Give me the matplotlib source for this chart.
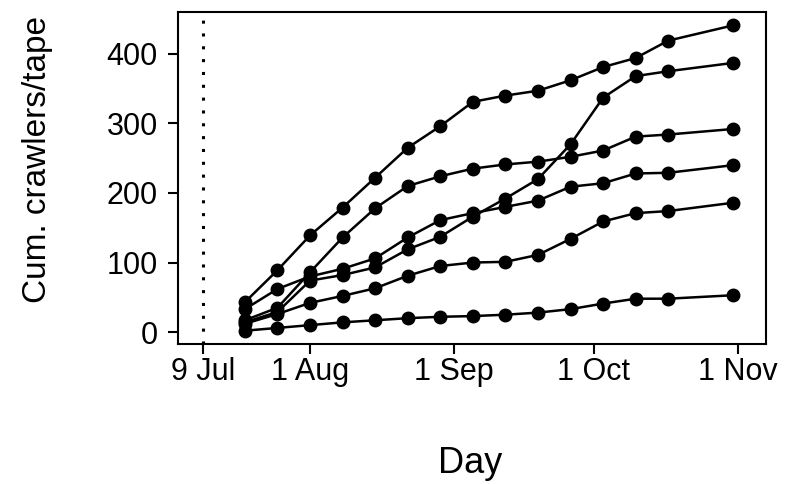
import datetime as dt

import matplotlib
matplotlib.use("Agg")
import matplotlib.pyplot as plt
import matplotlib.dates as mdates

plt.rcParams['font.family'] = ['Liberation Sans', 'DejaVu Sans']

# sampling dates (weekly, last one skips a week)
dates = [dt.date(2019, 7, 18), dt.date(2019, 7, 25), dt.date(2019, 8, 1),
         dt.date(2019, 8, 8), dt.date(2019, 8, 15), dt.date(2019, 8, 22),
         dt.date(2019, 8, 29), dt.date(2019, 9, 5), dt.date(2019, 9, 12),
         dt.date(2019, 9, 19), dt.date(2019, 9, 26), dt.date(2019, 10, 3),
         dt.date(2019, 10, 10), dt.date(2019, 10, 17), dt.date(2019, 10, 31)]

# cumulative crawlers per tape, one list per tree
tree_a = [43, 89, 139, 179, 222, 265, 296, 331, 340, 347, 362, 381, 394, 419, 441]
tree_b = [14, 29, 74, 82, 93, 119, 137, 166, 192, 220, 270, 337, 368, 375, 387]
tree_c = [33, 62, 80, 91, 106, 136, 161, 171, 180, 189, 209, 214, 228, 229, 240]
tree_d = [17, 35, 86, 136, 178, 210, 224, 235, 241, 245, 252, 261, 281, 284, 292]
tree_e = [12, 26, 42, 52, 63, 81, 95, 100, 101, 111, 134, 159, 171, 174, 186]
tree_f = [2, 6, 10, 14, 17, 20, 22, 23, 25, 28, 33, 41, 48, 48, 53]

release_date = dt.date(2019, 7, 9)
tick_dates = [dt.date(2019, 7, 9), dt.date(2019, 8, 1), dt.date(2019, 9, 1),
              dt.date(2019, 10, 1), dt.date(2019, 11, 1)]
tick_labels = ["9 Jul", "1 Aug", "1 Sep", "1 Oct", "1 Nov"]

fig = plt.figure(figsize=(7.86, 4.84), dpi=100)
ax = fig.add_axes([0.2265, 0.289, 0.748, 0.686])

for vals in [tree_a, tree_b, tree_c, tree_d, tree_e, tree_f]:
    ax.plot(dates, vals, color="black", linewidth=1.8,
            marker="o", markersize=9, zorder=3)

ax.axvline(release_date, color="black", linestyle=(0, (1, 3.2)), linewidth=2.2)

ax.set_xlim(dt.datetime(2019, 7, 3, 15), dt.datetime(2019, 11, 7))
ax.set_ylim(-17.3, 460)
ax.set_xticks([mdates.date2num(d) for d in tick_dates])
ax.set_xticklabels(tick_labels)
ax.set_yticks([0, 100, 200, 300, 400])

ax.tick_params(axis="both", labelsize=22, length=7.5, width=1.5, color="black",
               labelcolor="black")
ax.tick_params(axis="x", pad=2)
ax.tick_params(axis="y", pad=7)
for sp in ax.spines.values():
    sp.set_linewidth(1.5)
    sp.set_color("black")

ax.set_xlabel("Day", fontsize=26)
ax.xaxis.set_label_coords(0.497, -0.306)
ax.set_ylabel("Cum. crawlers/tape", fontsize=24)
ax.yaxis.set_label_coords(-0.212, 0.557)

fig.savefig("out.png", dpi=100)
